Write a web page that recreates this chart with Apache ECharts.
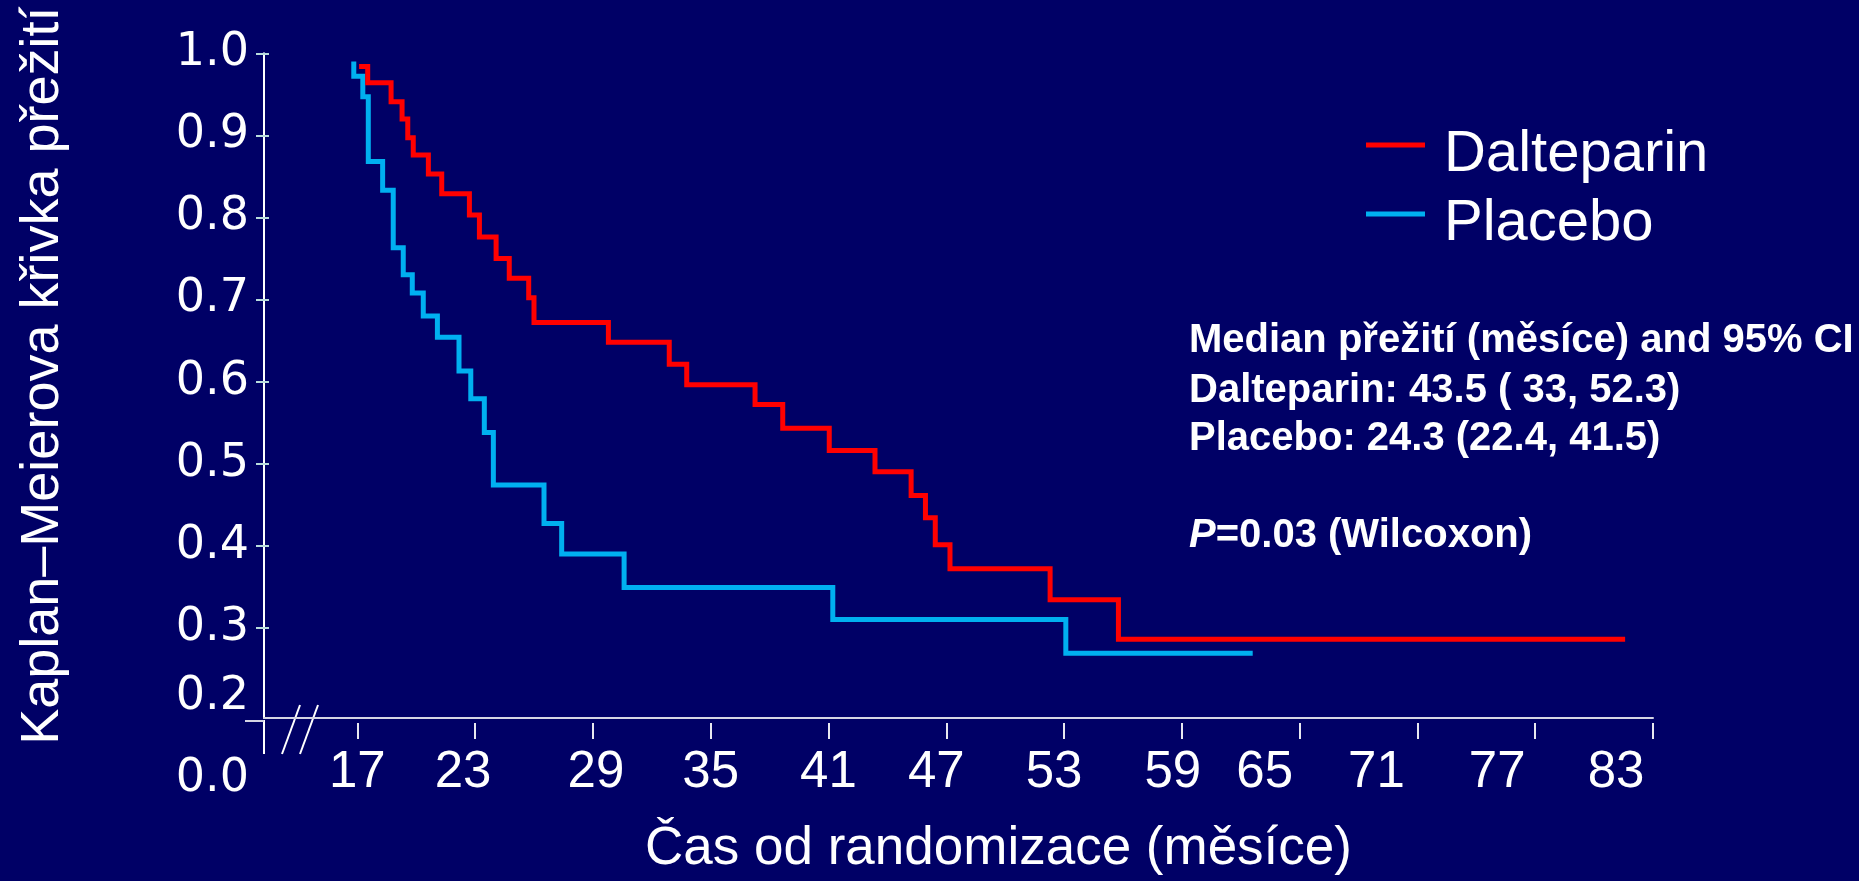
<!DOCTYPE html>
<html>
<head>
<meta charset="utf-8">
<script src="https://cdn.jsdelivr.net/npm/echarts@6/dist/echarts.min.js"></script>
<style>
  html, body { margin: 0; padding: 0; background: #000066; }
  #chart { width: 1859px; height: 881px; }
</style>
</head>
<body>
<div id="chart"></div>
<script>
// Kaplan–Meier survival estimates (months from randomisation, survival probability).
// survival[i] holds from months[i] until the next event time.
const seriesNames = ['Dalteparin', 'Placebo'];

const dalteparinMonths = [17.09, 17.53, 18.72, 19.28, 19.57, 19.85, 20.62, 21.30, 22.71, 23.22,
  24.07, 24.74, 25.73, 26.00, 29.79, 32.89, 33.78, 37.26, 38.67, 41.04,
  43.37, 45.21, 45.94, 46.44, 47.19, 52.29, 55.77, 81.58];
const dalteparinSurvival = [0.984, 0.964, 0.941, 0.920, 0.897, 0.876, 0.853, 0.829, 0.803, 0.776,
  0.750, 0.726, 0.702, 0.672, 0.648, 0.621, 0.596, 0.572, 0.543, 0.516,
  0.490, 0.461, 0.434, 0.401, 0.372, 0.334, 0.286, 0.286];

const placeboMonths = [16.82, 16.82, 17.28, 17.56, 18.29, 18.83, 19.34, 19.80, 20.36, 21.08,
  22.18, 22.78, 23.47, 23.93, 26.51, 27.41, 30.59, 41.22, 53.09, 62.61];
const placeboSurvival = [0.990, 0.972, 0.947, 0.868, 0.833, 0.763, 0.730, 0.708, 0.680, 0.654,
  0.613, 0.579, 0.538, 0.474, 0.427, 0.390, 0.349, 0.310, 0.269, 0.269];

const xTickValues = [17, 23, 29, 35, 41, 47, 53, 59, 65, 71, 77, 83];
const yTickValues = [0.3, 0.4, 0.5, 0.6, 0.7, 0.8, 0.9, 1.0];
const yLabelValues = [0.2, 0.3, 0.4, 0.5, 0.6, 0.7, 0.8, 0.9, 1.0];

const yAxisTitle = 'Kaplan–Meierova křivka přežití';
const xAxisTitle = 'Čas od randomizace (měsíce)';
const medianHeader = 'Median přežití (měsíce) and 95% CI';
const medianLines = ['Dalteparin: 43.5 ( 33, 52.3)', 'Placebo: 24.3 (22.4, 41.5)'];
const pValueLabel = 'P';
const pValueRest = '=0.03 (Wilcoxon)';

// ---- presentation ----
const BG = '#000066';
const RED = '#ff0000';
const BLUE = '#00b0f0';
const TEXT = '#ffffff';
const SANS = '"Liberation Sans", Arial, sans-serif';
const ROUND = '"DejaVu Sans", sans-serif';

// horizontal nudges (px) of individual tick labels along the time axis
const xLabelNudge = { 23: -12, 29: 3, 47: -10, 53: -10, 59: -9, 65: -35, 71: -41, 77: -38, 83: -37 };

const xRich = {};
xTickValues.forEach(v => {
  const s = xLabelNudge[v] || 0;
  xRich['t' + v] = {
    fontSize: 51, fontFamily: SANS, color: TEXT,
    padding: s < 0 ? [0, -2 * s, 0, 0] : [0, 0, 0, 2 * s]
  };
});

const toPairs = (xs, ys) => xs.map((x, i) => [x, ys[i]]);

const chart = echarts.init(document.getElementById('chart'), null, { renderer: 'canvas' });

const xMin = 12.247, xMax = 83;
const yMin = 0.19, yMax = 1.0;

chart.setOption({
  backgroundColor: BG,
  animation: false,
  grid: { left: 264, right: 206, top: 53.3, bottom: 160.3, containLabel: false },
  legend: {
    orient: 'vertical',
    left: 1361,
    top: 121,
    icon: 'rect',
    itemWidth: 59,
    itemHeight: 5,
    itemGap: 11,
    data: seriesNames,
    formatter: name => '{n|' + name + '}',
    textStyle: {
      color: TEXT, fontSize: 58, fontFamily: SANS,
      rich: { n: { color: TEXT, fontSize: 58, fontFamily: SANS, padding: [20, 0, 0, 14] } }
    }
  },
  xAxis: [
    {
      type: 'value', min: xMin, max: xMax,
      axisLine: { show: true, lineStyle: { color: '#d4d4e4', width: 2 } },
      axisTick: { show: false },
      axisLabel: { show: false },
      splitLine: { show: false }
    },
    {
      type: 'value', min: xMin, max: xMax, position: 'bottom', offset: 5,
      axisLine: { show: false },
      axisTick: { show: true, customValues: xTickValues, length: 16, lineStyle: { color: '#e8e8f0', width: 2 } },
      axisLabel: {
        show: true, customValues: xTickValues, margin: 24,
        formatter: v => '{t' + v + '|' + v + '}',
        rich: xRich, color: TEXT, fontSize: 51, fontFamily: SANS
      },
      splitLine: { show: false },
      name: xAxisTitle,
      nameLocation: 'middle',
      nameGap: 100,
      nameTextStyle: { color: TEXT, fontSize: 53, fontFamily: SANS, padding: [0, 0, 0, 80] }
    }
  ],
  yAxis: [
    {
      type: 'value', min: yMin, max: yMax, position: 'left',
      axisLine: { show: true, lineStyle: { color: '#ffffff', width: 2 } },
      axisTick: { show: true, customValues: yTickValues, length: 8, lineStyle: { color: '#b8dcdc', width: 2 } },
      axisLabel: {
        show: true, customValues: yLabelValues, margin: 15,
        formatter: v => Math.abs(v - 0.2) < 1e-6 ? '{low|0.2}' : v.toFixed(1),
        color: TEXT, fontSize: 46, fontFamily: ROUND,
        rich: { low: { fontSize: 46, fontFamily: ROUND, color: TEXT, padding: [0, 0, 26, 0] } }
      },
      splitLine: { show: false },
      name: yAxisTitle,
      nameLocation: 'middle',
      nameRotate: 90,
      nameGap: 194,
      nameTextStyle: { color: TEXT, fontSize: 54, fontFamily: SANS, padding: [0, 0, 0, 20] }
    },
    {
      // inward half of the crossing ticks on the value axis
      type: 'value', min: yMin, max: yMax, position: 'left', offset: 0,
      axisLine: { show: false },
      axisTick: { show: true, inside: true, customValues: yTickValues, length: 5, lineStyle: { color: '#b8dcdc', width: 2 } },
      axisLabel: { show: false },
      splitLine: { show: false }
    }
  ],
  series: [
    {
      name: seriesNames[0], type: 'line', step: 'end', showSymbol: false, symbol: 'none',
      xAxisIndex: 0, yAxisIndex: 0,
      data: toPairs(dalteparinMonths, dalteparinSurvival),
      itemStyle: { color: RED },
      lineStyle: { color: RED, width: 5, join: 'miter', cap: 'butt' },
      z: 3
    },
    {
      name: seriesNames[1], type: 'line', step: 'end', showSymbol: false, symbol: 'none',
      xAxisIndex: 0, yAxisIndex: 0,
      data: toPairs(placeboMonths, placeboSurvival),
      itemStyle: { color: BLUE },
      lineStyle: { color: BLUE, width: 5, join: 'miter', cap: 'butt' },
      z: 2
    }
  ],
  graphic: [
    // axis break: lower stub of the value axis, left stub of the time axis, and the "//" marks
    { type: 'line', shape: { x1: 264, y1: 720, x2: 264, y2: 754 }, style: { stroke: '#ffffff', lineWidth: 2 } },
    { type: 'line', shape: { x1: 245, y1: 721, x2: 264, y2: 721 }, style: { stroke: '#d4d4e4', lineWidth: 2 } },
    { type: 'line', shape: { x1: 300, y1: 705, x2: 282, y2: 754 }, style: { stroke: '#ffffff', lineWidth: 2 } },
    { type: 'line', shape: { x1: 318, y1: 705, x2: 300, y2: 754 }, style: { stroke: '#ffffff', lineWidth: 2 } },
    {
      type: 'text', z: 10,
      style: { text: '0.0', x: 249, y: 779, fill: TEXT, font: '46px ' + ROUND,
        textAlign: 'right', align: 'right', textVerticalAlign: 'middle', verticalAlign: 'middle' }
    },
    {
      type: 'text', z: 10,
      style: { text: medianHeader, x: 1189, y: 341, fill: TEXT, font: 'bold 40px ' + SANS,
        textAlign: 'left', align: 'left', textVerticalAlign: 'middle', verticalAlign: 'middle' }
    },
    {
      type: 'text', z: 10,
      style: { text: medianLines[0], x: 1189, y: 391, fill: TEXT, font: 'bold 40px ' + SANS,
        textAlign: 'left', align: 'left', textVerticalAlign: 'middle', verticalAlign: 'middle' }
    },
    {
      type: 'text', z: 10,
      style: { text: medianLines[1], x: 1189, y: 439, fill: TEXT, font: 'bold 40px ' + SANS,
        textAlign: 'left', align: 'left', textVerticalAlign: 'middle', verticalAlign: 'middle' }
    },
    {
      type: 'text', z: 10,
      style: {
        text: '{i|' + pValueLabel + '}{b|' + pValueRest + '}', x: 1189, y: 536, fill: TEXT,
        font: 'bold 40px ' + SANS,
        textAlign: 'left', align: 'left', textVerticalAlign: 'middle', verticalAlign: 'middle',
        rich: {
          i: { fontStyle: 'italic', fontWeight: 'bold', fontSize: 40, fontFamily: SANS, fill: TEXT, color: TEXT },
          b: { fontWeight: 'bold', fontSize: 40, fontFamily: SANS, fill: TEXT, color: TEXT }
        }
      }
    }
  ]
});
</script>
</body>
</html>
